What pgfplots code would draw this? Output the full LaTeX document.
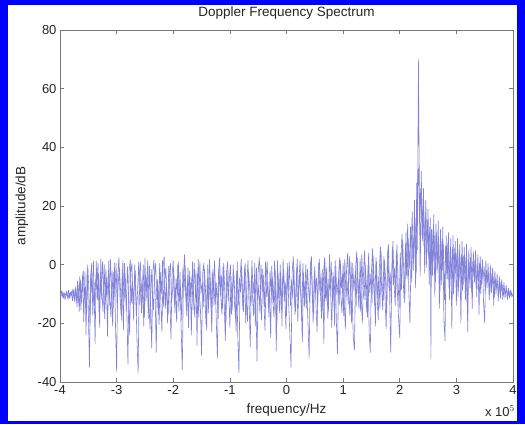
\documentclass[border=0pt]{standalone}
\usepackage{pgfplots}
\usepackage{pgfplotstable}
\pgfplotsset{compat=1.18}
\usepackage{fontspec}
\setmainfont{Liberation Sans}
\definecolor{specline}{RGB}{130,130,218}
\definecolor{axgray}{RGB}{120,120,120}
\pgfplotstableread{
x y
-4.00 -9.5
-3.98 -10.8
-3.96 -9.2
-3.94 -11.5
-3.92 -9.8
-3.90 -10.4
-3.88 -8.9
-3.86 -11.9
-3.84 -9.6
-3.82 -10.7
-3.80 -9.0
-3.78 -12.3
-3.76 -8.6
-3.74 -12.8
-3.72 -8.0
-3.70 -14.5
-3.68 -6.8
-3.66 -16.0
-3.64 -5.2
-3.62 -12.8
-3.60 -3.5
-3.58 -19.5
-3.56 -2.4
-3.54 -24.0
-3.52 -1.0
-3.50 -15.2
-3.48 -35.0
-3.46 -4.0
-3.44 0.5
-3.42 -17.5
-3.40 -6.2
-3.38 -27.0
-3.36 1.2
-3.34 -12.0
-3.32 -3.0
-3.30 -21.5
-3.28 2.0
-3.26 -9.5
-3.24 -16.0
-3.22 0.2
-3.20 -13.5
-3.18 -4.5
-3.16 -24.5
-3.14 1.5
-3.12 -10.2
-3.10 -18.0
-3.08 -2.0
-3.06 -14.8
-3.04 0.8
-3.02 -20.5
-3.00 -36.5
-2.98 -3.5
-2.96 2.5
-2.94 -11.0
-2.92 -17.2
-2.90 -1.5
-2.88 -22.5
-2.86 0.5
-2.84 -9.0
-2.82 -15.5
-2.80 -34.0
-2.78 -2.5
-2.76 1.8
-2.74 -13.0
-2.72 -5.5
-2.70 -19.0
-2.68 0.0
-2.66 -11.5
-2.64 -26.0
-2.62 -37.0
-2.60 -4.0
-2.58 1.0
-2.56 -16.5
-2.54 -7.0
-2.52 -21.0
-2.50 2.2
-2.48 -12.5
-2.46 -3.0
-2.44 -18.5
-2.42 -0.5
-2.40 -14.0
-2.38 -28.5
-2.36 -2.0
-2.34 1.5
-2.32 -10.5
-2.30 -30.0
-2.28 -5.0
-2.26 -17.0
-2.24 0.5
-2.22 -12.0
-2.20 -23.0
-2.18 -1.0
-2.16 2.8
-2.14 -15.0
-2.12 -6.5
-2.10 -20.0
-2.08 -0.5
-2.06 -11.0
-2.04 -25.5
-2.02 -3.5
-2.00 1.5
-1.98 -13.5
-1.96 -8.0
-1.94 -19.5
-1.92 0.0
-1.90 -16.0
-1.88 -2.5
-1.86 -22.0
-1.84 -36.0
-1.82 -4.5
-1.80 3.5
-1.78 -10.0
-1.76 -17.5
-1.74 -1.0
-1.72 -13.0
-1.70 -6.0
-1.68 -24.0
-1.66 1.0
-1.64 -11.5
-1.62 -18.0
-1.60 -2.0
-1.58 -27.5
-1.56 2.0
-1.54 -9.5
-1.52 -15.0
-1.50 -31.0
-1.48 -3.0
-1.46 0.5
-1.44 -12.0
-1.42 -20.5
-1.40 -4.5
-1.38 -16.5
-1.36 1.8
-1.34 -8.0
-1.32 -23.0
-1.30 -1.5
-1.28 -14.0
-1.26 -5.5
-1.24 -19.0
-1.22 -32.0
-1.20 -2.5
-1.18 2.5
-1.16 -11.0
-1.14 -17.0
-1.12 -0.5
-1.10 -13.5
-1.08 -26.0
-1.06 -3.0
-1.04 1.0
-1.02 -9.0
-1.00 -21.5
-0.98 -4.0
-0.96 -15.5
-0.94 0.0
-0.92 -12.5
-0.90 -18.5
-0.88 -2.0
-0.86 -24.5
-0.84 -37.0
-0.82 -5.0
-0.80 2.0
-0.78 -10.5
-0.76 -16.0
-0.74 -1.0
-0.72 -20.0
-0.70 -7.0
-0.68 1.5
-0.66 -13.0
-0.64 -28.0
-0.62 -3.5
-0.60 -11.0
-0.58 -17.5
-0.56 0.5
-0.54 -14.5
-0.52 -33.0
-0.50 -2.5
-0.48 2.5
-0.46 -9.5
-0.44 -19.0
-0.42 -1.5
-0.40 -12.0
-0.38 -22.5
-0.36 -4.0
-0.34 1.0
-0.32 -15.0
-0.30 -8.5
-0.28 -25.0
-0.26 -0.5
-0.24 -13.0
-0.22 -18.0
-0.20 -2.0
-0.18 -29.5
-0.16 1.5
-0.14 -10.0
-0.12 -16.5
-0.10 -3.0
-0.08 -21.0
-0.06 2.0
-0.04 -12.5
-0.02 -6.0
0.00 -17.5
0.02 0.5
0.04 -14.0
0.06 -24.0
0.08 -35.0
0.10 -2.5
0.12 2.8
0.14 -10.5
0.16 -16.0
0.18 -1.0
0.20 -19.5
0.22 -5.5
0.24 1.5
0.26 -12.0
0.28 -26.5
0.30 -3.0
0.32 -14.5
0.34 0.0
0.36 -9.0
0.38 -20.5
0.40 -32.0
0.42 -2.0
0.44 3.0
0.46 -11.5
0.48 -17.0
0.50 -0.5
0.52 -13.5
0.54 -23.0
0.56 -4.5
0.58 2.0
0.60 -10.0
0.62 -18.5
0.64 -1.5
0.66 -27.0
0.68 1.0
0.70 -12.5
0.72 -6.5
0.74 -16.0
0.76 3.5
0.78 -9.5
0.80 -21.5
0.82 -2.5
0.84 -14.0
0.86 1.5
0.88 -19.0
0.90 -30.5
0.92 -3.5
0.94 2.5
0.96 -11.0
0.98 -16.5
1.00 0.5
1.02 -13.0
1.04 -22.0
1.06 -2.0
1.08 4.0
1.10 -9.5
1.12 -17.5
1.14 1.0
1.16 -12.0
1.18 -25.0
1.20 -29.0
1.22 -1.5
1.24 4.5
1.26 -8.5
1.28 -15.0
1.30 2.0
1.32 -11.0
1.34 -20.0
1.36 -3.0
1.38 5.0
1.40 -10.5
1.42 -16.5
1.44 0.0
1.46 -23.5
1.48 -30.0
1.50 -2.5
1.52 5.5
1.54 -7.5
1.56 -14.0
1.58 2.5
1.60 -10.0
1.62 -19.0
1.64 -1.0
1.66 6.0
1.68 -8.0
1.70 -15.5
1.72 3.0
1.74 -11.5
1.76 -22.0
1.78 -0.5
1.80 7.0
1.82 -9.0
1.84 -30.0
1.86 -4.0
1.88 8.0
1.90 -6.5
1.92 -14.0
1.94 4.5
1.96 -10.0
1.98 -18.5
2.00 -25.0
2.02 1.0
2.04 10.5
2.06 -5.0
2.08 -13.0
2.10 7.0
2.12 -3.5
2.14 14.0
2.16 -9.0
2.18 -20.0
2.20 4.0
2.22 18.0
2.24 -2.0
2.26 22.0
2.28 -8.0
2.30 28.0
2.31 5.0
2.32 36.0
2.33 70.0
2.34 42.0
2.35 20.0
2.36 -4.0
2.37 10.0
2.38 32.0
2.40 8.0
2.42 26.0
2.44 -3.0
2.46 22.0
2.48 4.0
2.50 19.0
2.52 -7.0
2.54 16.0
2.55 -32.0
2.56 12.0
2.58 -4.0
2.60 17.0
2.62 -11.0
2.64 14.0
2.66 -3.0
2.68 15.0
2.70 -15.0
2.72 12.0
2.74 -7.0
2.76 13.0
2.78 -19.0
2.80 -26.0
2.82 10.0
2.84 -5.0
2.86 11.0
2.88 -12.0
2.90 9.0
2.92 -22.0
2.94 10.0
2.96 -6.0
2.98 8.0
3.00 -14.0
3.02 9.0
3.04 -9.0
3.06 7.0
3.08 -20.0
3.10 8.0
3.12 -7.0
3.14 6.0
3.16 -12.0
3.18 7.0
3.20 -23.0
3.22 5.0
3.24 -8.0
3.26 6.0
3.28 -15.0
3.30 4.5
3.32 -6.0
3.34 5.0
3.36 -11.0
3.38 3.5
3.40 -17.0
3.42 3.0
3.44 -7.0
3.46 2.0
3.48 -13.0
3.50 -20.0
3.52 1.5
3.54 -8.0
3.56 0.5
3.58 -12.0
3.60 0.0
3.62 -9.5
3.64 -1.0
3.66 -14.0
3.68 -2.0
3.70 -10.0
3.72 -3.0
3.74 -12.5
3.76 -4.0
3.78 -11.5
3.80 -5.0
3.82 -12.0
3.84 -6.0
3.86 -11.5
3.88 -7.0
3.90 -12.0
3.92 -8.0
3.94 -11.5
3.96 -8.5
3.98 -11.0
4.00 -10.0
}\spec
\pgfplotstableread{
x y
-3.99 -10.5
-3.97 -8.8
-3.95 -11.2
-3.93 -9.4
-3.91 -12.0
-3.89 -9.9
-3.87 -10.9
-3.85 -8.7
-3.83 -11.6
-3.81 -9.3
-3.79 -10.6
-3.77 -8.2
-3.75 -11.8
-3.73 -7.5
-3.71 -12.5
-3.69 -5.5
-3.67 -13.0
-3.65 -4.0
-3.63 -15.5
-3.61 -6.0
-3.59 -2.0
-3.57 -12.0
-3.55 -7.5
-3.53 -17.0
-3.51 0.0
-3.49 -9.0
-3.47 -20.0
-3.45 -2.5
-3.43 -11.5
-3.41 1.5
-3.39 -14.0
-3.37 -5.0
-3.35 -8.5
-3.33 0.5
-3.31 -16.5
-3.29 -3.5
-3.27 -12.0
-3.25 1.0
-3.23 -7.0
-3.21 -18.5
-3.19 -1.5
-3.17 -10.5
-3.15 -4.0
-3.13 -14.0
-3.11 2.0
-3.09 -8.0
-3.07 -21.0
-3.05 -2.5
-3.03 -11.0
-3.01 0.5
-2.99 -15.0
-2.97 -6.0
-2.95 -1.0
-2.93 -9.0
-2.91 -19.0
-2.89 1.5
-2.87 -12.5
-2.85 -4.0
-2.83 -16.0
-2.81 -0.5
-2.79 -10.0
-2.77 -24.0
-2.75 -3.0
-2.73 0.5
-2.71 -13.5
-2.69 -7.5
-2.67 -2.0
-2.65 -17.5
-2.63 -9.0
-2.61 1.0
-2.59 -14.0
-2.57 -5.0
-2.55 -11.0
-2.53 0.0
-2.51 -18.0
-2.49 -3.5
-2.47 -8.0
-2.45 1.5
-2.43 -12.5
-2.41 -22.0
-2.39 -1.5
-2.37 -9.5
-2.35 -15.5
-2.33 -4.0
-2.31 0.5
-2.29 -12.0
-2.27 -7.0
-2.25 -20.5
-2.23 -2.5
-2.21 -10.0
-2.19 1.5
-2.17 -14.5
-2.15 -5.5
-2.13 -1.0
-2.11 -11.5
-2.09 -17.0
-2.07 -3.0
-2.05 0.5
-2.03 -13.0
-2.01 -8.0
-1.99 -2.0
-1.97 -16.5
-1.95 -4.5
-1.93 -10.5
-1.91 1.0
-1.89 -12.5
-1.87 -7.5
-1.85 -19.0
-1.83 -1.0
-1.81 -9.0
-1.79 -0.5
-1.77 -14.0
-1.75 -5.0
-1.73 -21.5
-1.71 -2.0
-1.69 -11.0
-1.67 -4.0
-1.65 -15.5
-1.63 0.5
-1.61 -8.5
-1.59 -13.0
-1.57 -3.0
-1.55 -18.0
-1.53 1.0
-1.51 -10.0
-1.49 -6.0
-1.47 -14.5
-1.45 -1.5
-1.43 -9.0
-1.41 -22.5
-1.39 0.0
-1.37 -12.0
-1.35 -4.5
-1.33 -16.0
-1.31 -2.5
-1.29 -8.0
-1.27 1.5
-1.25 -13.5
-1.23 -6.0
-1.21 -18.5
-1.19 -1.0
-1.17 -10.5
-1.15 -3.5
-1.13 -15.0
-1.11 0.5
-1.09 -8.5
-1.07 -20.0
-1.05 -2.0
-1.03 -12.5
-1.01 -5.0
-0.99 0.0
-0.97 -17.0
-0.95 -7.0
-0.93 -3.0
-0.91 -11.0
-0.89 -23.0
-0.87 1.0
-0.85 -14.0
-0.83 -4.5
-0.81 -9.5
-0.79 -1.5
-0.77 -15.5
-0.75 -6.5
-0.73 0.5
-0.71 -12.0
-0.69 -19.5
-0.67 -2.5
-0.65 -8.0
-0.63 -14.0
-0.61 1.5
-0.59 -10.0
-0.57 -5.0
-0.55 -21.0
-0.53 -1.0
-0.51 -12.5
-0.49 -7.0
-0.47 -16.5
-0.45 0.0
-0.43 -9.0
-0.41 -3.5
-0.39 -14.5
-0.37 1.0
-0.35 -11.0
-0.33 -6.0
-0.31 -18.0
-0.29 -2.0
-0.27 -10.5
-0.25 -4.0
-0.23 -13.0
-0.21 1.5
-0.19 -8.5
-0.17 -20.5
-0.15 -3.0
-0.13 -12.0
-0.11 0.0
-0.09 -15.5
-0.07 -6.0
-0.05 -1.5
-0.03 -10.0
-0.01 -22.0
0.01 -2.5
0.03 -9.0
0.05 1.0
0.07 -14.0
0.09 -5.0
0.11 -11.5
0.13 -0.5
0.15 -17.0
0.17 -7.5
0.19 2.0
0.21 -12.5
0.23 -3.5
0.25 -9.5
0.27 -19.0
0.29 0.5
0.31 -11.0
0.33 -5.5
0.35 -15.0
0.37 -1.5
0.39 -8.5
0.41 -13.0
0.43 1.5
0.45 -6.0
0.47 -20.0
0.49 -2.0
0.51 -10.0
0.53 -4.5
0.55 -14.5
0.57 0.5
0.59 -9.5
0.61 -3.0
0.63 -16.0
0.65 -6.5
0.67 2.5
0.69 -11.5
0.71 -1.0
0.73 -18.5
0.75 -5.0
0.77 -9.0
0.79 1.0
0.81 -13.0
0.83 -4.0
0.85 -21.0
0.87 -0.5
0.89 -10.5
0.91 -6.0
0.93 -14.0
0.95 1.5
0.97 -8.0
0.99 -3.0
1.01 -17.5
1.03 2.0
1.05 -11.0
1.07 -5.5
1.09 -13.5
1.11 3.0
1.13 -7.5
1.15 -20.0
1.17 0.5
1.19 -9.0
1.21 -3.5
1.23 -14.5
1.25 2.5
1.27 -10.0
1.29 -5.0
1.31 -16.0
1.33 3.5
1.35 -8.0
1.37 -12.0
1.39 0.0
1.41 -6.0
1.43 -18.0
1.45 4.0
1.47 -9.5
1.49 -3.0
1.51 -13.0
1.53 3.0
1.55 -7.0
1.57 -21.0
1.59 1.0
1.61 -11.5
1.63 -4.0
1.65 -15.0
1.67 4.5
1.69 -6.5
1.71 -12.0
1.73 1.5
1.75 -5.0
1.77 -17.0
1.79 5.5
1.81 -8.0
1.83 -2.5
1.85 -13.0
1.87 6.0
1.89 -7.0
1.91 -1.0
1.93 -11.0
1.95 7.0
1.97 -5.5
1.99 -15.0
2.01 4.0
2.03 -8.5
2.05 8.5
2.07 -2.0
2.09 -12.0
2.11 11.0
2.13 -5.0
2.15 9.0
2.17 -1.5
2.19 13.0
2.21 -6.0
2.23 10.0
2.25 2.0
2.27 16.0
2.29 -3.0
2.31 24.0
2.33 33.0
2.35 14.0
2.37 26.0
2.39 14.0
2.41 20.0
2.43 6.0
2.45 18.0
2.47 -1.0
2.49 15.0
2.51 3.0
2.53 13.0
2.55 -4.0
2.57 12.0
2.59 1.0
2.61 10.0
2.63 -6.0
2.65 11.0
2.67 -1.0
2.69 9.0
2.71 -9.0
2.73 8.0
2.75 -2.0
2.77 7.0
2.79 -12.0
2.81 6.5
2.83 -3.0
2.85 7.5
2.87 -8.0
2.89 5.0
2.91 -4.5
2.93 6.0
2.95 -10.0
2.97 5.5
2.99 -3.0
3.01 4.0
3.03 -11.0
3.05 5.0
3.07 -4.0
3.09 3.5
3.11 -9.0
3.13 3.0
3.15 -5.0
3.17 2.5
3.19 -14.0
3.21 2.0
3.23 -5.0
3.25 2.5
3.27 -9.5
3.29 1.0
3.31 -4.0
3.33 1.5
3.35 -8.0
3.37 0.0
3.39 -5.5
3.41 0.5
3.43 -10.0
3.45 -1.0
3.47 -5.0
3.49 -0.5
3.51 -9.0
3.53 -2.0
3.55 -6.0
3.57 -2.5
3.59 -10.5
3.61 -3.0
3.63 -7.0
3.65 -4.0
3.67 -11.0
3.69 -5.0
3.71 -8.0
3.73 -5.5
3.75 -10.5
3.77 -6.0
3.79 -9.0
3.81 -7.0
3.83 -10.5
3.85 -8.0
3.87 -10.0
3.89 -8.5
3.91 -11.0
3.93 -9.0
3.95 -10.5
3.97 -9.5
3.99 -10.5
}\specb
\begin{document}
\begin{tikzpicture}
\fill[blue] (-60pt,-42pt) rectangle (465pt,382pt);
\fill[white] (-52pt,-39pt) rectangle (457pt,377pt);
\begin{axis}[
  at={(0pt,0pt)}, anchor=south west,
  width=453pt, height=352pt, scale only axis,
  xmin=-4, xmax=4, ymin=-40, ymax=80,
  xtick={-4,-3,...,4}, ytick={-40,-20,...,80},
  tick align=inside, major tick length=4pt,
  axis line style={axgray, line width=0.6pt},
  tick style={axgray, line width=0.5pt},
  font=\fontsize{13.5}{16}\selectfont,
  ticklabel style={font=\fontsize{13}{15}\selectfont, text=black!85},
  /pgf/number format/assume math mode=true,
  title={Doppler Frequency Spectrum},
  every axis title/.style={at={(axis description cs:0.5,1)}, anchor=center, yshift=16.5pt, font=\fontsize{13.5}{16}\selectfont, text=black!85},
  xlabel={frequency/Hz},
  ylabel={amplitude/dB},
  every axis x label/.style={at={(axis description cs:0.5,0)}, anchor=center, yshift=-28pt, font=\fontsize{13.5}{16}\selectfont, text=black!85},
  every axis y label/.style={at={(axis description cs:0,0.5)}, xshift=-38pt, rotate=90, anchor=center, font=\fontsize{13.5}{16}\selectfont, text=black!85},
  clip=false,
]
\addplot[specline, line width=0.6pt, no markers, line join=miter, miter limit=2] table[x=x, y=y] {\specb};
\addplot[specline, line width=0.6pt, no markers, line join=miter, miter limit=2] table[x=x, y=y] {\spec};
\node[anchor=east, font=\fontsize{13}{15}\selectfont, text=black!85, inner sep=0pt] at ([xshift=2pt, yshift=-29pt]axis description cs:1,0) {x 10$^{5}$};
\end{axis}
\end{tikzpicture}
\end{document}
